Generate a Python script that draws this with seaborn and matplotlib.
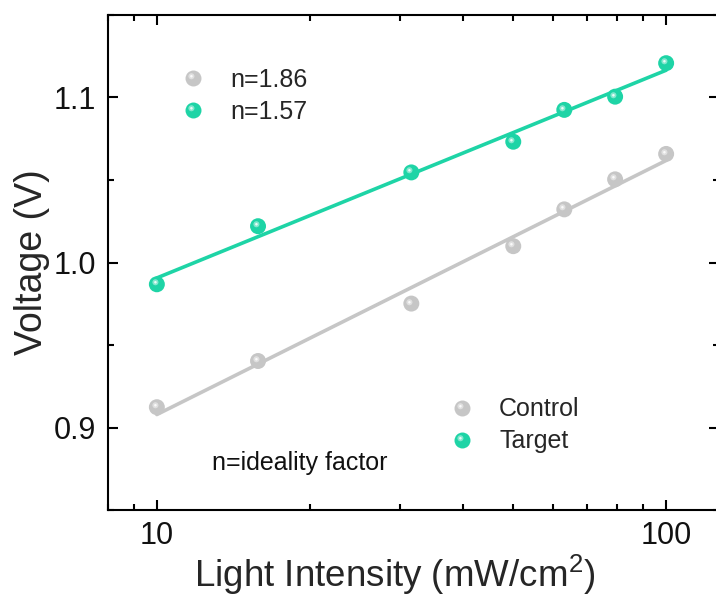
import numpy as np
import pandas as pd
import matplotlib
matplotlib.use("Agg")
import matplotlib.pyplot as plt
from matplotlib.path import Path
from matplotlib.lines import Line2D
from matplotlib.legend_handler import HandlerTuple
from matplotlib.ticker import MultipleLocator, FixedLocator, NullFormatter, FormatStrFormatter
import seaborn as sns

# Light intensity (mW/cm^2) and open-circuit voltage (V)
intensity = [10, 15.8, 31.6, 50.1, 63.1, 79.4, 100]
voc_control = [0.9123, 0.9403, 0.9751, 1.0099, 1.0322, 1.0504, 1.0658]
voc_target = [0.9868, 1.0220, 1.0546, 1.0732, 1.0925, 1.1005, 1.1208]
series_names = ["Control", "Target"]
ideality = ["n=1.86", "n=1.57"]
colors = ["#c6c6c6", "#1ed4a6"]

sns.set_theme(style="ticks")
plt.rcParams["font.family"] = ["Liberation Sans", "DejaVu Sans"]
plt.rcParams["mathtext.fontset"] = "custom"
plt.rcParams["mathtext.rm"] = "Liberation Sans"
plt.rcParams["mathtext.it"] = "Liberation Sans:italic"

df = pd.concat([
    pd.DataFrame({"intensity": intensity, "voc": voc_control, "sample": series_names[0]}),
    pd.DataFrame({"intensity": intensity, "voc": voc_target, "sample": series_names[1]}),
], ignore_index=True)

fig = plt.figure(figsize=(7.16, 5.96), dpi=100)
ax = fig.add_axes([107.5 / 716, 86 / 596, 611.5 / 716, 495 / 596])
ax.set_xscale("log")

# shiny highlight: small circle placed up-left inside a unit marker box
def highlight_marker(r):
    circ = Path.circle(center=(-0.13, 0.14), radius=r)
    verts = np.vstack([[[0.5, 0.5]], circ.vertices])
    codes = np.concatenate([[Path.MOVETO], circ.codes])
    return Path(verts, codes)

hl_big = highlight_marker(0.19)
hl_small = highlight_marker(0.08)
msize = 11.5

# semi-log fits
for name, col in zip(series_names, colors):
    sub = df[df["sample"] == name]
    sns.regplot(data=sub, x="intensity", y="voc", logx=True, ci=None,
                scatter=False, ax=ax, color=col, line_kws={"lw": 2.6, "zorder": 2})

sns.scatterplot(data=df, x="intensity", y="voc", hue="sample", palette=colors,
                s=msize ** 2, linewidth=0, ax=ax, legend=False, zorder=3)
ax.scatter(df["intensity"], df["voc"], marker=hl_big, s=msize ** 2,
           color="white", alpha=0.45, linewidth=0, zorder=4)
ax.scatter(df["intensity"], df["voc"], marker=hl_small, s=msize ** 2,
           color="white", alpha=0.85, linewidth=0, zorder=5)

ax.set_xlim(8, 127)
ax.set_ylim(0.85, 1.15)
ax.xaxis.set_major_locator(FixedLocator([10, 100]))
ax.set_xticklabels(["10", "100"])
ax.xaxis.set_minor_locator(FixedLocator([8, 9, 20, 30, 40, 50, 60, 70, 80, 90]))
ax.xaxis.set_minor_formatter(NullFormatter())
ax.yaxis.set_major_locator(MultipleLocator(0.1))
ax.yaxis.set_minor_locator(MultipleLocator(0.05))
ax.yaxis.set_major_formatter(FormatStrFormatter("%.1f"))

for s in ax.spines.values():
    s.set_linewidth(1.5)
    s.set_color("black")
ax.tick_params(which="both", direction="in", top=True, right=True,
               width=1.5, color="black", labelsize=22, labelcolor="#111111")
ax.tick_params(which="major", length=7, pad=8)
ax.tick_params(which="minor", length=4.5)

ax.set_xlabel(r"Light Intensity (mW/cm$^{2}$)", fontsize=26.5)
ax.xaxis.set_label_coords(0.47, -0.086)
ax.set_ylabel("Voltage (V)", fontsize=27, labelpad=3)

def handle(col):
    base = Line2D([], [], ls="none", marker="o", ms=msize, mfc=col, mec=col, mew=0)
    h1 = Line2D([], [], ls="none", marker=hl_big, ms=msize, mfc="white", mec="none", alpha=0.45)
    h2 = Line2D([], [], ls="none", marker=hl_small, ms=msize, mfc="white", mec="none", alpha=0.85)
    return (base, h1, h2)

handles = [handle(c) for c in colors]
leg_kw = dict(handler_map={tuple: HandlerTuple(ndivide=1)}, loc="upper left",
              bbox_transform=fig.transFigure, frameon=False, fontsize=18,
              handlelength=1.2, handletextpad=0.88, labelspacing=0.31,
              borderaxespad=0, borderpad=0)
leg1 = ax.legend(handles, ideality, bbox_to_anchor=(178 / 716, 1 - 68 / 596), **leg_kw)
ax.add_artist(leg1)
ax.legend(handles, series_names, bbox_to_anchor=(447 / 716, 1 - 397.5 / 596), **leg_kw)

ax.text(212 / 716, 1 - 463 / 596, "n=ideality factor", transform=fig.transFigure,
        fontsize=18, va="center", ha="left", color="#111111")

fig.savefig("out.png", dpi=100)
